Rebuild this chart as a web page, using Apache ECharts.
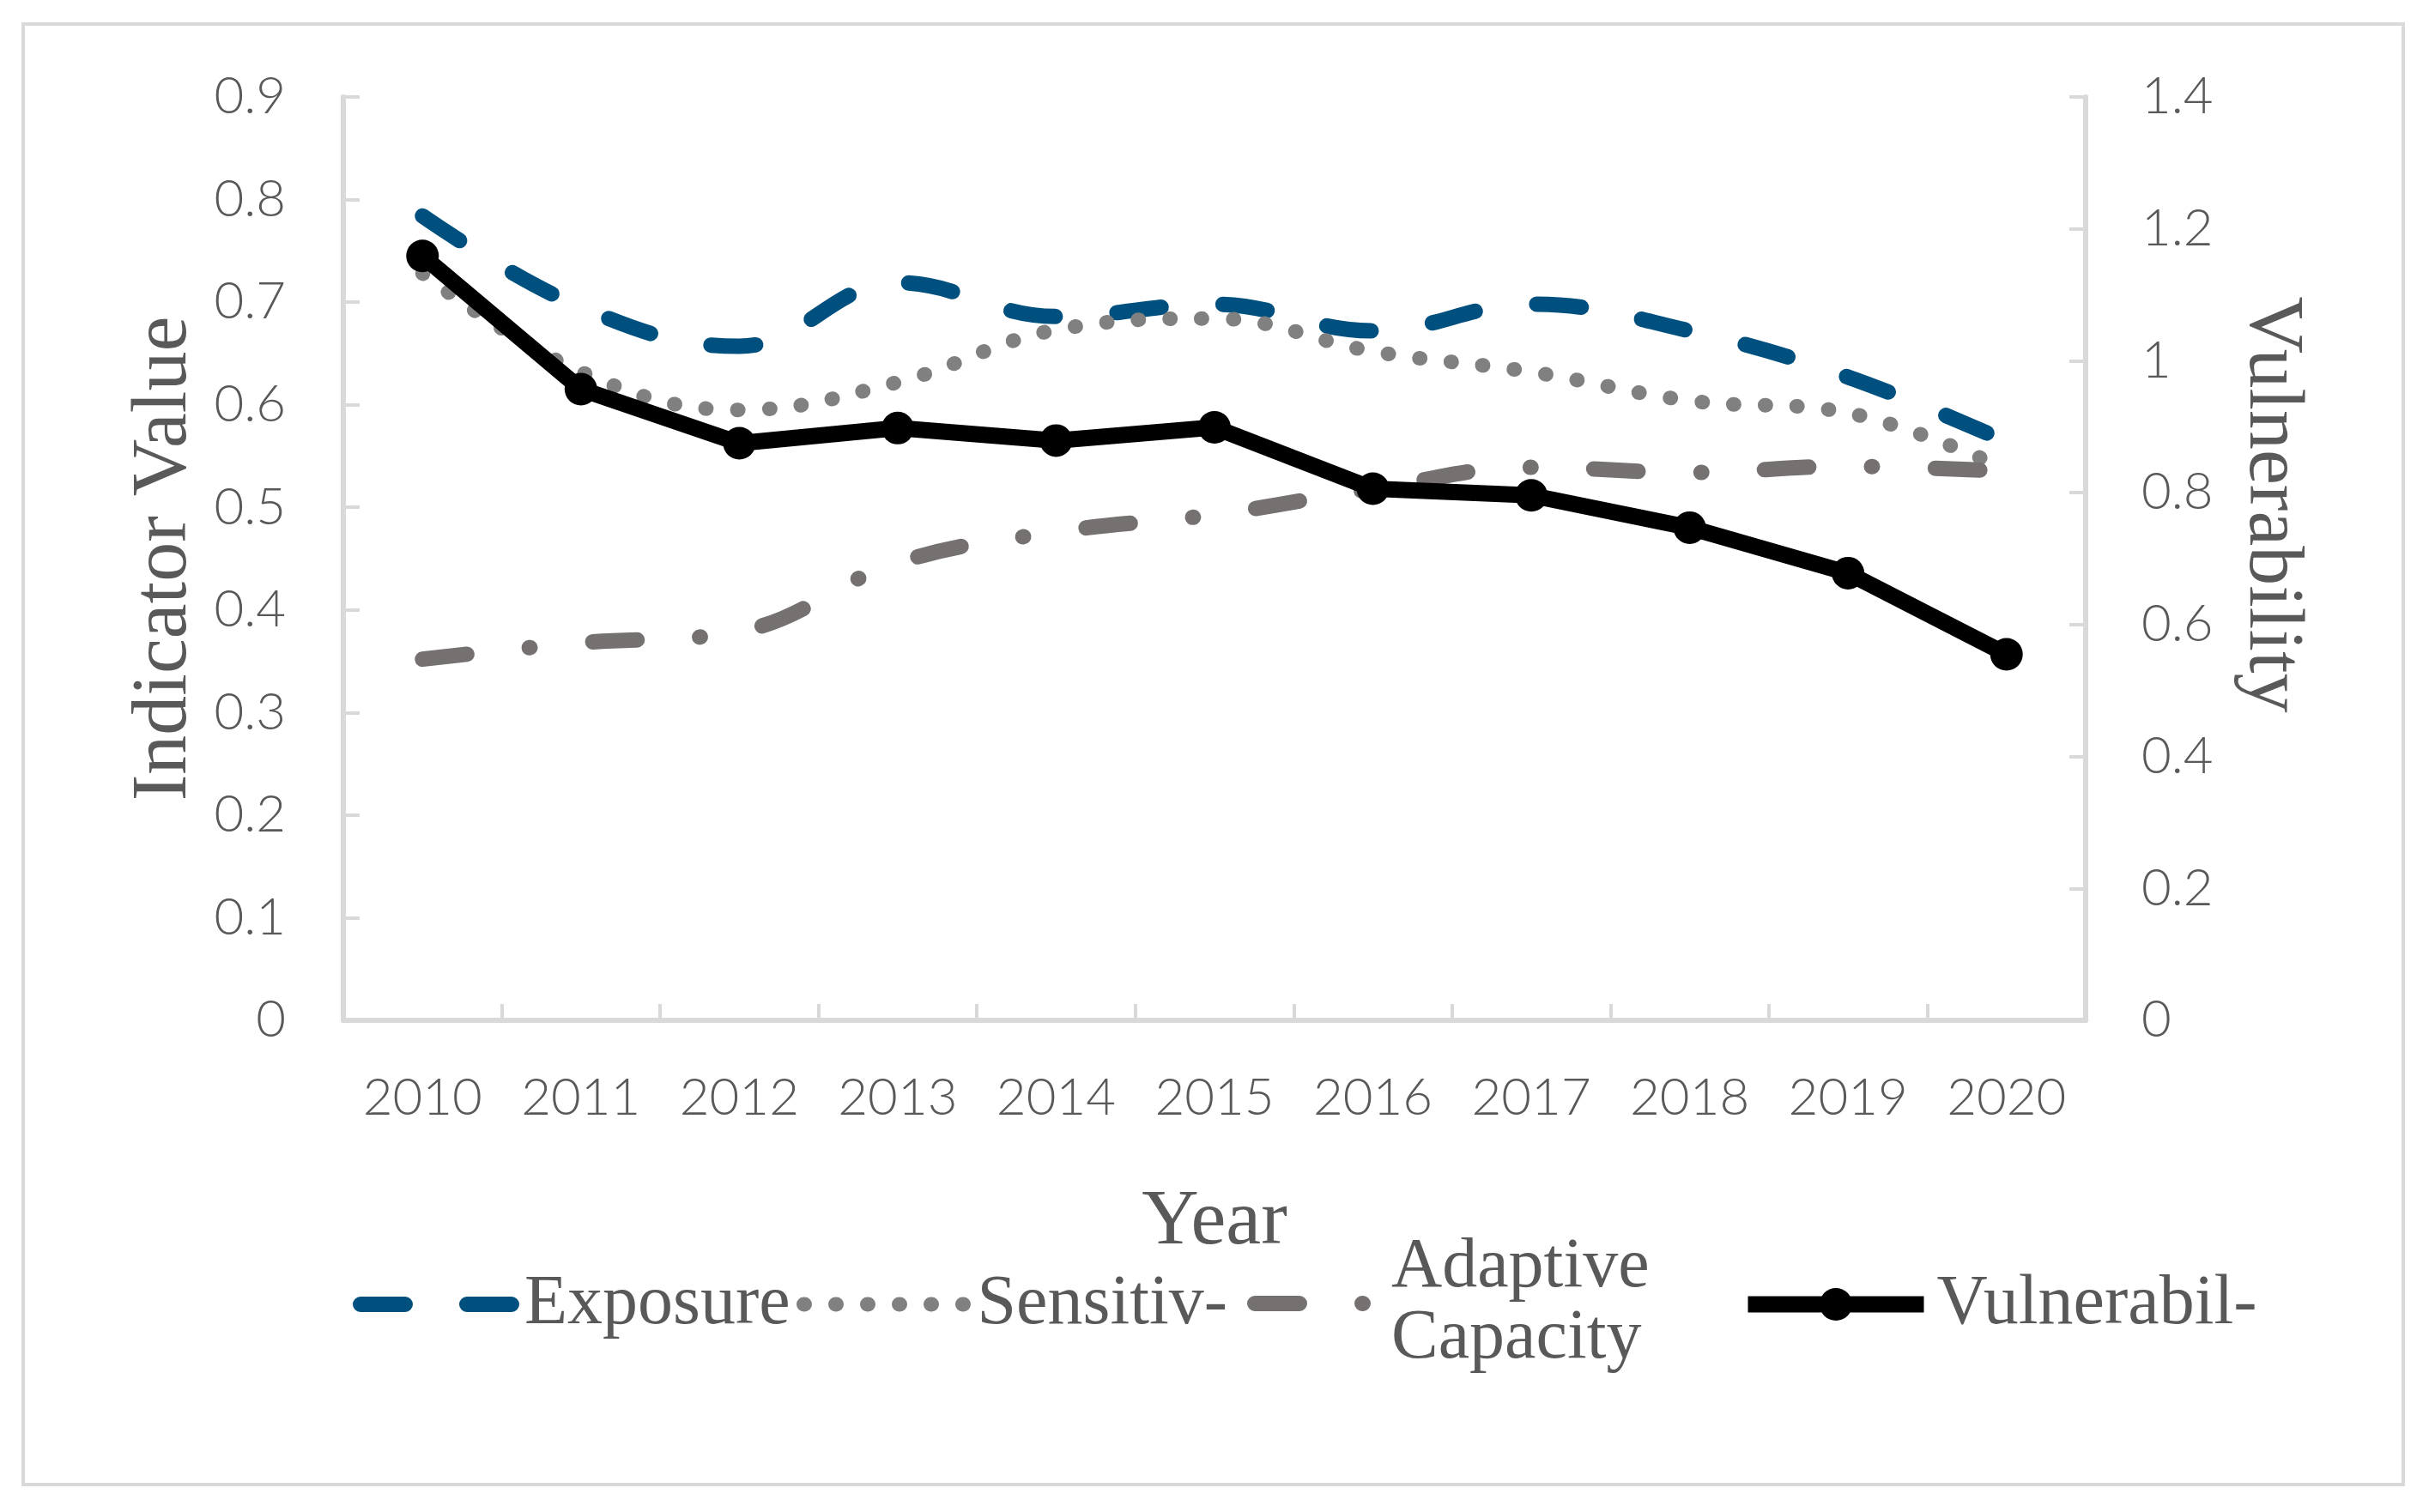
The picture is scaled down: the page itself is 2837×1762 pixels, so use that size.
<!DOCTYPE html>
<html>
<head>
<meta charset="utf-8">
<script src="https://cdn.jsdelivr.net/npm/echarts@6/dist/echarts.min.js"></script>
<style>
html,body{margin:0;padding:0;background:#ffffff;}
#chart{width:2837px;height:1762px;}
</style>
</head>
<body>
<div id="chart"></div>
<script>
// ---- data ----
const categories = ['2010','2011','2012','2013','2014','2015','2016','2017','2018','2019','2020'];
const exposure = [0.784, 0.695, 0.657, 0.719, 0.686, 0.698, 0.672, 0.698, 0.672, 0.627, 0.564];
const sensitivity = [0.728, 0.632, 0.595, 0.622, 0.673, 0.684, 0.652, 0.632, 0.604, 0.592, 0.537];
const adaptiveCapacity = [0.352, 0.368, 0.379, 0.446, 0.476, 0.493, 0.518, 0.539, 0.534, 0.540, 0.535];
const vulnerability = [1.159, 0.957, 0.875, 0.898, 0.879, 0.899, 0.806, 0.796, 0.747, 0.678, 0.555];

const seriesNames = ['Exposure', 'Sensitivity', 'Adaptive Capacity', 'Vulnerability'];
const legendLabels = ['Exposure', 'Sensitiv-', 'Adaptive\nCapacity', 'Vulnerabil-'];
const xAxisTitle = 'Year';
const leftAxisTitle = 'Indicator Value';
const rightAxisTitle = 'Vulnerability';
const leftAxisRange = {min: 0, max: 0.9, interval: 0.1};
const rightAxisRange = {min: 0, max: 1.4, interval: 0.2};

// ---- styling ----
const AXIS_GRAY = '#D9D9D9';
const TEXT_GRAY = '#595959';
const SERIF = '"Liberation Serif", "DejaVu Serif", serif';
const SANS = 'Lato, "Open Sans", sans-serif';
const colors = ['#00507F', '#808080', '#767171', '#000000'];
const dashes = [[52, 72], [1, 36], [52, 73, 1, 73], 'solid'];
const widths = [18, 17, 18, 19];

const labelFor = name => legendLabels[seriesNames.indexOf(name)];

const legendBase = {
  orient: 'horizontal',
  padding: 0,
  selectedMode: false,
  formatter: labelFor,
  textStyle: {fontFamily: SERIF, fontSize: 82, color: TEXT_GRAY, lineHeight: 84}
};

function makeLegend(i, left, top, itemWidth, itemHeight, textPad, showSymbol, lineHeight) {
  return Object.assign({}, legendBase, {
    data: [seriesNames[i]],
    left: left,
    top: top,
    itemWidth: itemWidth,
    itemHeight: itemHeight,
    lineStyle: {width: widths[i], type: dashes[i], cap: i === 3 ? 'butt' : 'round', color: colors[i]},
    itemStyle: showSymbol ? {color: colors[i], borderWidth: 0} :
      {color: 'rgba(0,0,0,0)', borderColor: 'rgba(0,0,0,0)', borderWidth: 0, opacity: 0},
    textStyle: Object.assign({}, legendBase.textStyle, {padding: textPad, lineHeight: lineHeight || 84})
  });
}

const axisLineStyle = {show: true, lineStyle: {color: AXIS_GRAY, width: 6}};
const axisTickStyle = {show: true, inside: true, length: 19, lineStyle: {color: AXIS_GRAY, width: 4}};

const chart = echarts.init(document.getElementById('chart'), null, {renderer: 'canvas'});

const option = {
  backgroundColor: '#ffffff',
  animation: false,
  grid: {left: 400, right: 407, top: 113, bottom: 573, containLabel: false, outerBoundsMode: 'none'},
  graphic: [{
    type: 'rect',
    shape: {x: 27, y: 28, width: 2773, height: 1702},
    style: {fill: 'none', stroke: AXIS_GRAY, lineWidth: 4},
    silent: true,
    z: -10
  }],
  legend: [
    makeLegend(0, 411, 1478, 186, 20, [0, 0, 0, 0], false),
    makeLegend(1, 928, 1478, 197, 20, [0, 0, 0, 0], false),
    makeLegend(2, 1453, 1424, 154, 20, [0, 0, 24, 0], false, 83),
    makeLegend(3, 2027, 1478, 205, 47.5, [0, 0, 0, 10], true)
  ],
  xAxis: {
    type: 'category',
    data: categories,
    boundaryGap: true,
    name: xAxisTitle,
    nameLocation: 'middle',
    nameGap: 190,
    nameTextStyle: {fontFamily: SERIF, fontSize: 92, color: TEXT_GRAY},
    axisLine: axisLineStyle,
    axisTick: Object.assign({alignWithLabel: false, interval: 0}, axisTickStyle),
    axisLabel: {margin: 61, interval: 0, fontFamily: SANS, fontSize: 60, fontWeight: 300, color: TEXT_GRAY},
    splitLine: {show: false}
  },
  yAxis: [
    {
      type: 'value',
      position: 'left',
      min: leftAxisRange.min, max: leftAxisRange.max, interval: leftAxisRange.interval,
      name: leftAxisTitle,
      nameLocation: 'middle',
      nameRotate: 90,
      nameGap: 162,
      nameTextStyle: {fontFamily: SERIF, fontSize: 92, color: TEXT_GRAY},
      axisLine: axisLineStyle,
      axisTick: axisTickStyle,
      axisLabel: {margin: 67, fontFamily: SANS, fontSize: 60, fontWeight: 300, color: TEXT_GRAY},
      splitLine: {show: false}
    },
    {
      type: 'value',
      position: 'right',
      min: rightAxisRange.min, max: rightAxisRange.max, interval: rightAxisRange.interval,
      name: rightAxisTitle,
      nameLocation: 'middle',
      nameRotate: -90,
      nameGap: 170,
      nameTextStyle: {fontFamily: SERIF, fontSize: 92, color: TEXT_GRAY, padding: [0, 126, 0, 0]},
      axisLine: axisLineStyle,
      axisTick: axisTickStyle,
      axisLabel: {margin: 65, fontFamily: SANS, fontSize: 60, fontWeight: 300, color: TEXT_GRAY},
      splitLine: {show: false}
    }
  ],
  series: [
    {
      name: seriesNames[0], type: 'line', yAxisIndex: 0, data: exposure,
      smooth: 0.4, symbol: 'none', z: 2,
      lineStyle: {color: colors[0], width: widths[0], type: dashes[0], cap: 'round'},
      itemStyle: {color: colors[0]}
    },
    {
      name: seriesNames[1], type: 'line', yAxisIndex: 0, data: sensitivity,
      smooth: 0.4, symbol: 'none', z: 2,
      lineStyle: {color: colors[1], width: widths[1], type: dashes[1], cap: 'round'},
      itemStyle: {color: colors[1]}
    },
    {
      name: seriesNames[2], type: 'line', yAxisIndex: 0, data: adaptiveCapacity,
      smooth: 0.4, symbol: 'none', z: 2,
      lineStyle: {color: colors[2], width: widths[2], type: dashes[2], cap: 'round'},
      itemStyle: {color: colors[2]}
    },
    {
      name: seriesNames[3], type: 'line', yAxisIndex: 1, data: vulnerability,
      smooth: false, symbol: 'circle', symbolSize: 38, showSymbol: true, z: 3,
      lineStyle: {color: colors[3], width: widths[3], type: 'solid'},
      itemStyle: {color: colors[3]}
    }
  ]
};

chart.setOption(option);
</script>
</body>
</html>
